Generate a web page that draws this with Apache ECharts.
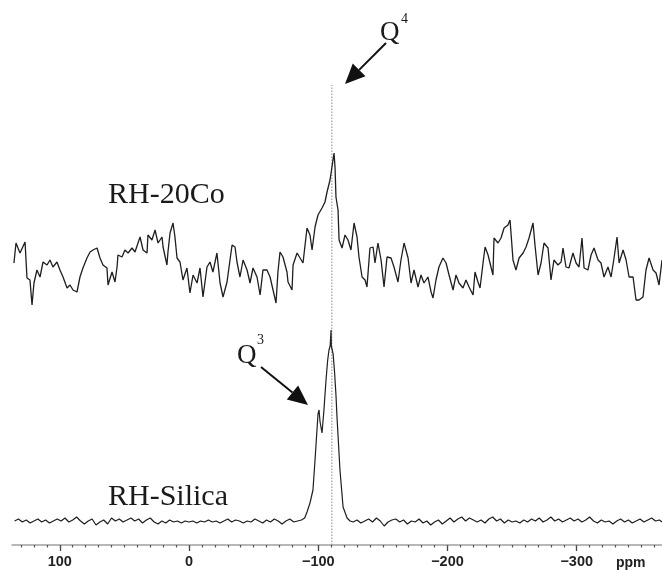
<!DOCTYPE html>
<html><head><meta charset="utf-8">
<script src="https://cdn.jsdelivr.net/npm/echarts@6/dist/echarts.min.js"></script>
<style>html,body{margin:0;padding:0;background:#fff}#c{width:662px;height:570px}</style>
</head><body><div id="c"></div>
<script>
// ---- data (chemical shift in ppm, intensity in arbitrary units) ----
const topPpm = [135.5,133.9,130.8,126.9,125.4,123.1,121.5,120.0,117.7,115.3,
113.0,109.9,107.6,105.3,102.2,99.9,97.5,94.4,92.1,89.8,
86.7,84.4,82.1,79.0,76.6,74.3,71.2,68.9,66.6,63.5,
62.7,59.6,57.3,55.7,55.0,51.9,49.6,47.2,44.1,41.8,
39.5,37.9,35.6,32.5,31.8,28.7,26.3,24.0,20.9,20.1,
17.1,16.3,14.7,12.4,10.9,9.3,7.0,4.7,1.6,-0.7,
-3.1,-6.2,-8.5,-10.8,-13.9,-16.2,-18.5,-21.6,-24.0,-26.3,
-29.4,-31.7,-33.3,-35.6,-37.1,-39.4,-41.8,-44.9,-47.2,-49.5,
-52.6,-55.0,-57.2,-60.3,-62.7,-65.0,-67.3,-68.8,-70.4,-72.7,
-75.8,-76.6,-79.7,-80.5,-83.6,-85.9,-88.2,-91.3,-93.6,-95.2,
-97.5,-99.8,-102.9,-105.2,-106.8,-109.1,-110.6,-112.2,-113.0,-113.7,
-115.3,-116.1,-118.4,-120.7,-123.0,-125.3,-127.7,-130.0,-131.5,-133.9,
-136.2,-137.7,-140.0,-142.4,-143.9,-146.2,-148.6,-150.9,-153.2,-156.3,
-158.6,-161.7,-164.0,-166.4,-169.5,-171.8,-174.1,-177.2,-179.5,-181.8,
-184.9,-187.3,-188.8,-191.1,-193.4,-196.5,-198.9,-201.2,-204.3,-206.6,
-208.9,-212.0,-214.3,-216.7,-219.8,-221.3,-223.6,-225.2,-227.5,-229.1,
-231.4,-232.9,-235.2,-236.0,-239.1,-241.4,-243.8,-246.8,-248.4,-250.7,
-253.0,-255.4,-258.5,-260.8,-263.1,-266.2,-267.7,-270.1,-272.4,-274.7,
-277.8,-280.1,-282.4,-285.5,-287.9,-289.4,-291.7,-294.0,-297.1,-299.5,
-301.8,-304.1,-305.7,-308.7,-311.1,-313.4,-316.5,-318.8,-321.1,-324.2,
-326.6,-328.9,-331.2,-332.8,-335.9,-338.2,-340.5,-343.6,-345.9,-348.2,
-351.3,-353.6,-356.0,-359.1,-361.4,-363.7,-366.0];
const topVal = [37,57,47,58,22,20,-5,17,30,23,
38,35,40,33,38,30,23,12,15,10,
8,23,32,42,48,50,52,42,35,32,
15,28,18,33,45,43,50,47,52,48,
57,63,50,47,65,60,70,57,63,53,
35,48,67,77,63,42,38,20,32,7,
25,17,32,3,33,38,28,47,17,3,
18,40,55,53,38,23,40,30,17,32,
23,5,30,30,23,10,-3,28,48,43,
28,18,10,35,47,42,37,72,65,50,
73,85,92,98,108,120,122,147,132,103,
90,60,52,65,60,50,77,63,43,23,
20,13,52,53,37,57,40,13,43,42,
33,18,40,57,42,17,30,13,25,17,
23,8,2,20,33,42,37,25,10,25,
17,12,20,13,5,28,18,12,37,53,
45,37,25,62,57,62,72,75,80,40,
30,42,47,53,62,77,55,25,37,57,
52,20,40,35,38,52,33,32,47,37,
33,62,32,30,45,52,40,37,23,33,
23,42,63,37,50,40,23,23,0,0,
3,30,42,30,27,15,40];

const silicaPpm = [135,132,129,126,123,120,117,114,111,108,105,102,99,96,93,90,87,84,81,78,
75,72,69,66,63,60,57,54,51,48,45,42,39,36,33,30,27,24,21,18,15,12,9,6,3,0,
-3,-6,-9,-12,-15,-18,-21,-24,-27,-30,-33,-36,-39,-42,-45,-48,-51,-54,-57,-60,
-63,-66,-69,-72,-75,-78,-81,-84,-87,
-89.5,-91.3,-93.6,-95.9,-97.5,-99.0,-99.8,-100.6,-101.4,-102.9,-104.4,-106.0,-107.3,-108.3,-109.2,
-109.7,-109.9,-110.1,-110.6,-111.5,-112.5,-113.7,-114.5,-116.8,-119.2,-122.3,-124.6,
-127,-130,-133,-136,-139,-142,-145,-148,-151,-154,-157,-160,-163,-166,-169,-172,-175,-178,
-181,-184,-187,-190,-193,-196,-199,-202,-205,-208,-211,-214,-217,-220,-223,-226,-229,-232,
-235,-238,-241,-244,-247,-250,-253,-256,-259,-262,-265,-268,-271,-274,-277,-280,-283,-286,
-289,-292,-295,-298,-301,-304,-307,-310,-313,-316,-319,-322,-325,-328,-331,-334,-337,-340,
-343,-346,-349,-352,-355,-358,-361,-364,-366];
const silicaVal = [1,3,0,2,-1,1,3,0,2,-1,1,3,1,4,0,2,5,1,-2,1,
3,-3,0,2,-2,4,1,3,0,2,4,1,3,-1,2,4,0,-2,1,-1,2,0,1,-1,1,0,
1,-1,1,0,2,0,1,-1,1,3,0,2,1,-1,1,0,3,1,-1,2,
0,3,1,-2,1,3,0,1,2,
4,10,19,32,62,92,108,112,100,89,112,142,162,172,176,
177,192,176,175,168,152,127,105,52,15,4,1,
0,2,-1,1,3,0,4,1,-4,0,2,3,0,2,-2,1,0,3,
-1,1,-3,0,2,-2,1,4,0,3,5,1,4,2,0,2,-1,3,
5,1,3,-1,2,0,1,-1,2,0,3,1,4,0,2,5,1,3,
0,2,4,1,3,0,2,5,1,-1,2,0,1,-2,1,3,0,2,
-1,1,3,0,2,4,1,2,0];

const majorTicks = [100, 0, -100, -200, -300];
const refLinePpm = -110.5;     // dotted reference line (Q4 position)
const refLineTop = 460;        // top end of dotted line (axis units)
const axisUnit = 'ppm';
const traceNames = ['RH-20Co', 'RH-Silica'];

// ---- layout ----
const X_MIN = -366, X_MAX = 137;
const TOP_OFFSET = 245, SILICA_OFFSET = 23;
const minorTicks = [];
for (let v = 130; v >= -360; v -= 10) minorTicks.push(v);

const pair = (xs, ys, off) => xs.map((x, i) => [x, ys[i] + off]);
const chart = echarts.init(document.getElementById('c'), null, {renderer: 'canvas'});

function arrow(tail, tip, len, halfW, color) {
  const dx = tip[0] - tail[0], dy = tip[1] - tail[1];
  const L = Math.hypot(dx, dy), ux = dx / L, uy = dy / L;
  const bx = tip[0] - ux * len, by = tip[1] - uy * len;
  const px = -uy * halfW, py = ux * halfW;
  return [
    {type: 'line', shape: {x1: tail[0], y1: tail[1], x2: bx, y2: by}, style: {stroke: color, lineWidth: 2}},
    {type: 'polygon', shape: {points: [tip, [bx + px, by + py], [bx - px, by - py]]}, style: {fill: color}}
  ];
}
const serif = '"Liberation Serif", "Times New Roman", serif';
const sans = '"Liberation Sans", Arial, sans-serif';
const txt = (x, y, s, size) => ({type: 'text', x, y,
  style: {text: s, fontFamily: serif, fontSize: size, fill: '#1a1a1a', align: 'left', verticalAlign: 'middle'}});

const option = {
  animation: false,
  backgroundColor: '#fff',
  grid: {left: 12, right: 0, top: 25, bottom: 25},
  xAxis: [
    {type: 'value', min: X_MIN, max: X_MAX, inverse: true, position: 'bottom',
     axisLine: {lineStyle: {color: '#a0a0a0', width: 1.5}},
     axisTick: {customValues: majorTicks, length: 6, lineStyle: {color: '#444', width: 1.3}},
     axisLabel: {customValues: majorTicks, formatter: v => String(v).replace('-', '\u2212'),
       fontFamily: sans, fontWeight: 'bold', fontSize: 14.5, color: '#222', margin: 9},
     splitLine: {show: false}},
    {type: 'value', min: X_MIN, max: X_MAX, inverse: true, position: 'bottom',
     axisLine: {show: false},
     axisTick: {customValues: minorTicks, length: 2.5, lineStyle: {color: '#555', width: 1.2}},
     axisLabel: {show: false}, splitLine: {show: false}}
  ],
  yAxis: {type: 'value', min: 0, max: 520, show: false},
  series: [
    {name: traceNames[0], type: 'line', data: pair(topPpm, topVal, TOP_OFFSET), showSymbol: false,
     lineStyle: {color: '#1e1e1e', width: 1.3}, z: 3},
    {name: traceNames[1], type: 'line', data: pair(silicaPpm, silicaVal, SILICA_OFFSET), showSymbol: false,
     lineStyle: {color: '#1e1e1e', width: 1.2}, z: 3},
    {name: 'ref', type: 'line', data: [[refLinePpm, 0], [refLinePpm, refLineTop]], showSymbol: false,
     lineStyle: {color: '#8a8a8a', width: 1, type: [1.5, 1.5]}, z: 2}
  ],
  graphic: [
    txt(108, 195, traceNames[0], 30),
    txt(108, 497, traceNames[1], 30),
    txt(380, 33, 'Q', 27),
    txt(401, 19, '4', 14),
    txt(237, 356, 'Q', 27),
    txt(257, 340, '3', 14),
    {type: 'text', x: 616, y: 563, style: {text: axisUnit, fontFamily: sans,
      fontWeight: 'bold', fontSize: 14, fill: '#222', align: 'left', verticalAlign: 'middle'}},
    ...arrow([386, 43], [345, 84], 20, 9, '#111'),
    ...arrow([261, 367], [308, 405], 20, 9, '#111')
  ]
};
chart.setOption(option);
</script></body></html>
